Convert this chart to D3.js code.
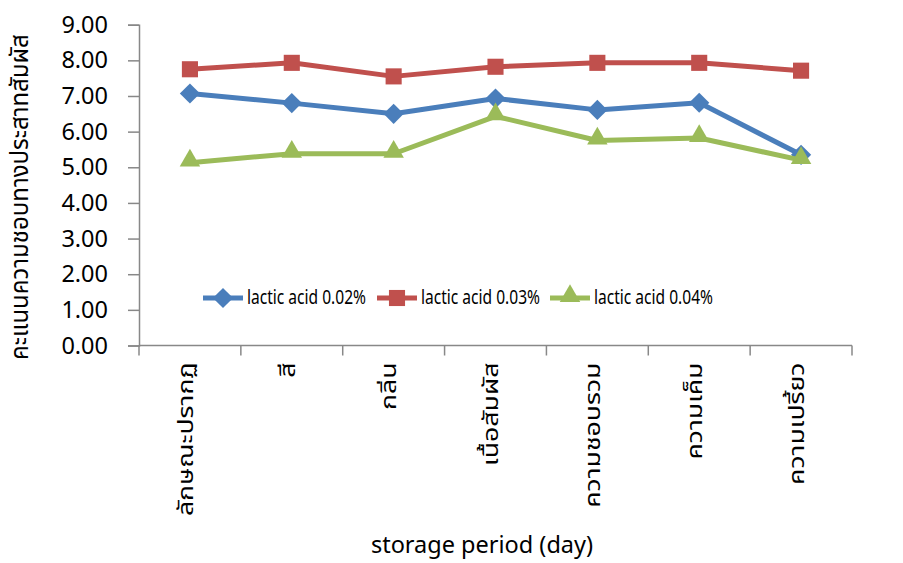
<!DOCTYPE html>
<html>
<head>
<meta charset="utf-8">
<script src="https://cdn.jsdelivr.net/npm/d3@7"></script>
<style>
  html, body { margin: 0; padding: 0; background: #fff; }
  text { font-family: "Noto Sans Thai", "Noto Sans", "Open Sans", sans-serif; fill: #000; }
</style>
</head>
<body>
<svg id="chart" width="903" height="563"></svg>
<script>
// Sensory attributes on the x axis
const categories = ["ลักษณะปรากฏ", "สี", "กลิ่น", "เนื้อสัมผัส", "ความชอบรวม", "ความเค็ม", "ความเปรี้ยว"];
const seriesNames = ["lactic acid 0.02%", "lactic acid 0.03%", "lactic acid 0.04%"];
const acid002 = [7.07, 6.80, 6.50, 6.93, 6.61, 6.81, 5.35];
const acid003 = [7.75, 7.93, 7.55, 7.82, 7.93, 7.93, 7.71];
const acid004 = [5.13, 5.38, 5.38, 6.43, 5.75, 5.82, 5.20];
const yTicks = [0, 1, 2, 3, 4, 5, 6, 7, 8, 9];
const colors = ["#4A7EBB", "#C0504D", "#9BBB59"];
const symbols = [d3.symbolDiamond2, d3.symbolSquare2, d3.symbolTriangle2];
const symbolSizes = [260, 330, 300];

const svg = d3.select("#chart");
const plotLeft = 139, plotRight = 852, plotTop = 24.7, plotBottom = 345.5;

const x = d3.scaleBand().domain(categories).range([plotLeft, plotRight]);
const y = d3.scaleLinear().domain([0, 9]).range([plotBottom, plotTop]);
const axisColor = "#888888";
const cx = c => x(c) + x.bandwidth() / 2;

// y axis
const yAxis = svg.append("g").attr("transform", `translate(${plotLeft},0)`)
  .call(d3.axisLeft(y).tickValues(yTicks).tickSize(11).tickPadding(20).tickFormat(d3.format(".2f")));
yAxis.select(".domain").attr("stroke", axisColor).attr("stroke-width", 1.5);
yAxis.selectAll(".tick line").attr("stroke", axisColor).attr("stroke-width", 1.5);
yAxis.selectAll(".tick text").style("font-size", "23.5px").attr("fill", "#000");

// x axis: ticks at category boundaries
const xg = svg.append("g").attr("transform", `translate(0,${plotBottom})`);
xg.append("line").attr("x1", plotLeft).attr("x2", plotRight).attr("y1", 0).attr("y2", 0)
  .attr("stroke", axisColor).attr("stroke-width", 1.5);
const bounds = categories.map(c => x(c)).concat([plotRight]);
xg.selectAll("line.tk").data(bounds).join("line").attr("class", "tk")
  .attr("x1", d => d).attr("x2", d => d).attr("y1", 0).attr("y2", 10)
  .attr("stroke", axisColor).attr("stroke-width", 1.5);
xg.selectAll("text.cat").data(categories).join("text").attr("class", "cat")
  .attr("transform", d => `translate(${cx(d) - 3},17) rotate(-90) scale(1.27,1)`)
  .attr("text-anchor", "end").attr("dominant-baseline", "middle")
  .style("font-size", "21px").text(d => d);

// series lines and markers
const allSeries = [acid002, acid003, acid004];
const line = d3.line().x((d, i) => cx(categories[i])).y(d => y(d));
allSeries.forEach((vals, s) => {
  svg.append("path").datum(vals).attr("d", line).attr("fill", "none")
    .attr("stroke", colors[s]).attr("stroke-width", 5).attr("stroke-linejoin", "round");
  svg.append("g").selectAll("path").data(vals).join("path")
    .attr("transform", (d, i) => `translate(${cx(categories[i])},${y(d) + (s === 2 ? -2 : 0)})`)
    .attr("d", d3.symbol().type(symbols[s]).size(symbolSizes[s]))
    .attr("fill", colors[s]);
});

// legend
const legendX = [203, 377, 550];
const legendY = 298;
seriesNames.forEach((name, s) => {
  const g = svg.append("g").attr("transform", `translate(${legendX[s]},${legendY})`);
  g.append("line").attr("x1", 0).attr("x2", 40).attr("stroke", colors[s]).attr("stroke-width", 5);
  g.append("path").attr("transform", `translate(20,${s === 2 ? -2 : 0})`)
    .attr("d", d3.symbol().type(symbols[s]).size(symbolSizes[s]))
    .attr("fill", colors[s]);
  g.append("text").attr("x", 44).attr("dominant-baseline", "middle")
    .attr("textLength", 119).attr("lengthAdjust", "spacingAndGlyphs")
    .style("font-size", "20.5px").text(name);
});

// axis titles
svg.append("text").attr("transform", `translate(21,${(plotTop + plotBottom) / 2 + 12}) rotate(-90)`)
  .attr("text-anchor", "middle").attr("dominant-baseline", "middle")
  .style("font-size", "24px").text("คะแนนความชอบทางประสาทสัมผัส");
svg.append("text").attr("x", 482).attr("y", 546).attr("text-anchor", "middle")
  .attr("dominant-baseline", "middle").style("font-size", "23.5px").text("storage period (day)");
</script>
</body>
</html>
